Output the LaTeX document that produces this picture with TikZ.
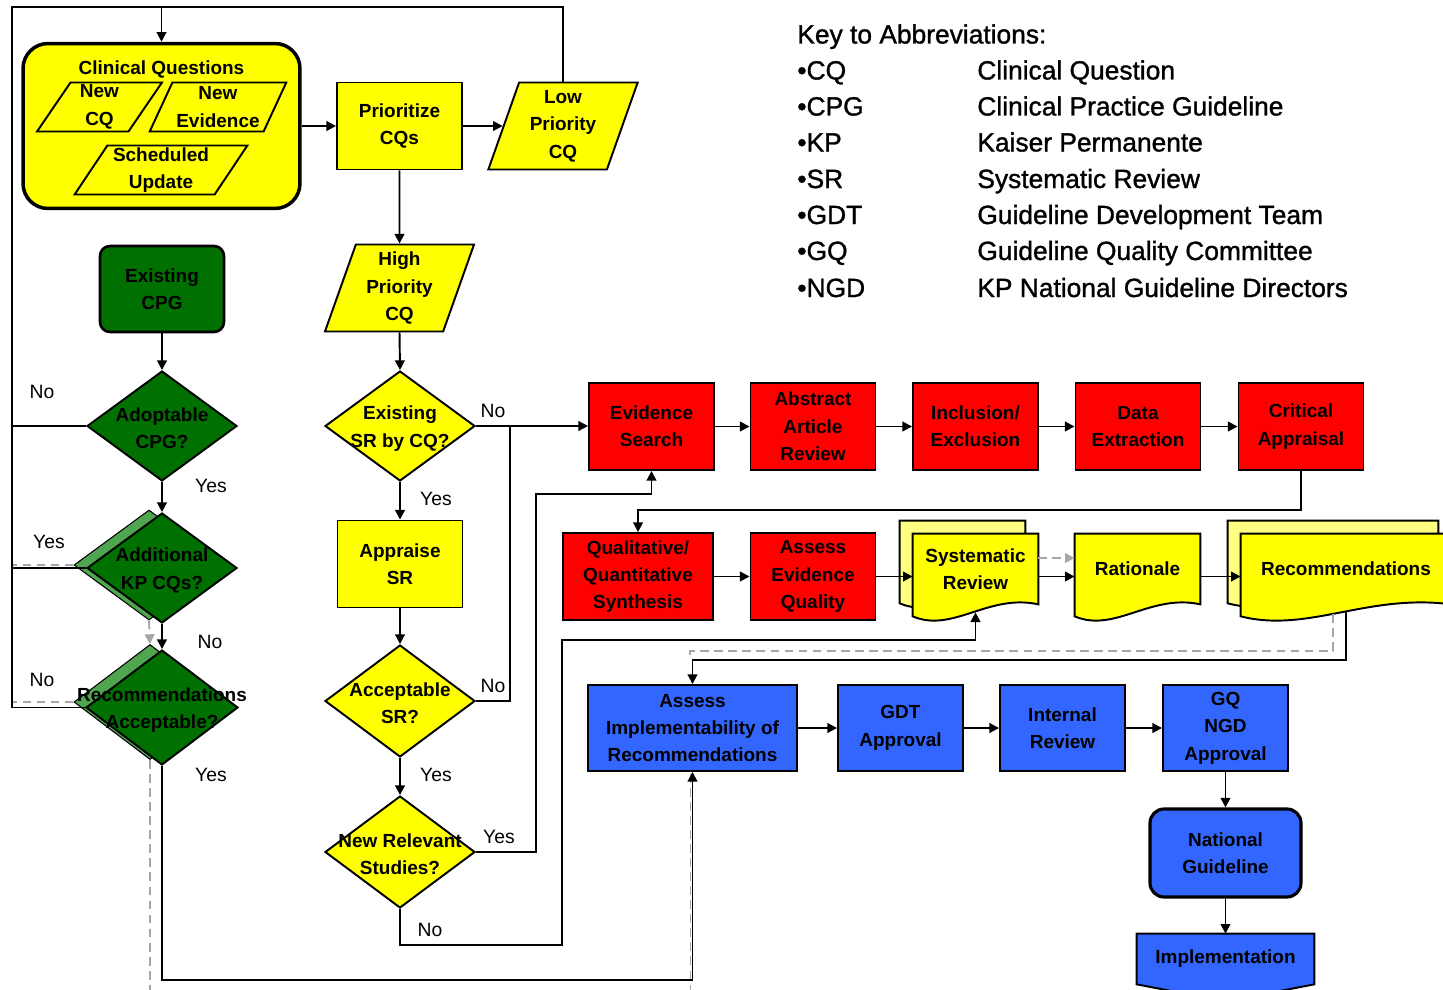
\documentclass[tikz,border=0pt]{standalone}
\usepackage{fontspec}
\setmainfont{Liberation Sans}
\usetikzlibrary{shapes.geometric,arrows.meta,calc,backgrounds}

% Colours
\definecolor{cqyellow}{RGB}{255,255,0}
\definecolor{paleyellow}{RGB}{255,255,128}
\definecolor{srred}{RGB}{255,0,0}
\definecolor{gdtblue}{RGB}{51,102,255}
\definecolor{cpggreen}{RGB}{0,112,0}
\definecolor{oldgreen}{RGB}{80,165,80}

\newcommand{\boxfont}{\fontsize{10.8}{15.6}\selectfont\bfseries}
\newcommand{\keyfont}{\fontsize{15}{18}\selectfont\addfontfeature{FakeBold=1.2}}
\newcommand{\ynfont}{\fontsize{11}{13}\selectfont}

% Document outline with wavy bottom: node, fill, x offset, y offset
\newcommand{\docshape}[4]{%
  \draw[line width=1.1pt, fill=#2]
    ($(#1.north west)+(#3,#4)$) -- ($(#1.north east)+(#3,#4)$)
    -- ($(#1.south east)+(#3,#4)$)
    .. controls ($(#1.south west)!0.6!(#1.south east)+(#3,#4)+(0,-11)$)
    and ($(#1.south west)!0.32!(#1.south east)+(#3,#4)+(0,29)$)
    .. ($(#1.south west)+(#3,#4)+(0,12)$) -- cycle;}

\tikzset{
  flow/.style={draw, line width=1.1pt, align=center, font=\boxfont, inner sep=0pt},
  stepbox/.style={flow, rectangle, minimum width=2.5cm, minimum height=1.74cm},
  decision/.style={flow, diamond, minimum width=3cm, minimum height=2.2cm},
  dectext/.style={align=center, font=\boxfont, inner sep=0pt, yshift=-0.05cm},
  datain/.style={flow, trapezium, trapezium stretches=true,
    trapezium left angle=#1, trapezium right angle=180-#1, fill=cqyellow},
  docnode/.style={align=center, font=\boxfont, inner sep=0pt,
    minimum width=2.5cm, minimum height=1.4cm},
  yn/.style={font=\ynfont, inner sep=0pt},
  keytext/.style={font=\keyfont, inner sep=0pt, anchor=base west},
  link/.style={line width=1.1pt},
  arr/.style={link, -{Triangle[length=5.5pt,width=5.5pt]}},
  oldline/.style={line width=1.1pt, gray!70, dash pattern=on 5pt off 3pt},
  oldarr/.style={oldline, -{Triangle[length=5.5pt,width=5.5pt]}}
}

\begin{document}
\begin{tikzpicture}[x=0.02cm, y=-0.02cm]

\useasboundingbox (0,0) rectangle (1443,990);

% Clinical questions group
\node[flow, rounded corners=0.5cm, line width=2pt, fill=cqyellow,
  minimum width=5.54cm, minimum height=3.3cm,
  label={[dectext, anchor=north, yshift=-0.32cm]north:Clinical Questions}] (cq) at (161.5,126) {};
\node[datain=63, minimum width=2.5cm, minimum height=0.98cm] (newcq) at (99.5,107) {New\\CQ};
\node[datain=63, minimum width=2.75cm, minimum height=0.98cm] (newev) at (218,107) {New\\Evidence};
\node[datain=57, minimum width=3.48cm, minimum height=0.98cm] (sched) at (161,170) {Scheduled\\Update};

% Prioritising
\node[stepbox, fill=cqyellow] (prior) at (399.5,126) {Prioritize\\CQs};
\node[datain=72, minimum width=3cm, minimum height=1.74cm] (lowcq) at (563,126) {Low\\Priority\\CQ};
\node[datain=72, minimum width=3cm, minimum height=1.74cm] (highcq) at (399.5,288) {High\\Priority\\CQ};

% Systematic review column
\node[decision, fill=cqyellow, label={[dectext]center:Existing\\SR by CQ?}] (srexist) at (400,426) {};
\node[stepbox, fill=cqyellow] (appraise) at (400,564) {Appraise\\SR};
\node[decision, fill=cqyellow, minimum height=2.24cm, label={[dectext]center:Acceptable\\SR?}] (srok) at (400,701) {};
\node[decision, fill=cqyellow, minimum height=2.24cm, label={[dectext]center:New Relevant\\Studies?}] (newstudy) at (400,852) {};

% Existing guideline column
\node[flow, rounded corners=0.2cm, line width=1.5pt, fill=cpggreen,
  minimum width=2.48cm, minimum height=1.72cm] (cpg) at (162,289) {Existing\\CPG};
\node[decision, fill=oldgreen, line width=0.6pt] (addl-old) at (149,565) {};
\node[decision, fill=oldgreen, line width=0.6pt, minimum width=3.04cm, minimum height=2.3cm] (recok-old) at (150,702) {};
\node[decision, fill=cpggreen, label={[dectext]center:Adoptable\\CPG?}] (adopt) at (162,426) {};
\node[decision, fill=cpggreen, label={[dectext]center:Additional\\KP CQs?}] (addl) at (162,568) {};
\node[decision, fill=cpggreen, minimum width=3.04cm, minimum height=2.3cm,
  label={[dectext]center:Recommendations\\Acceptable?}] (recok) at (162,707.5) {};

% Evidence review steps
\node[stepbox, fill=srred] (search) at (651.5,426.5) {Evidence\\Search};
\node[stepbox, fill=srred] (abstract) at (813,426.5) {Abstract\\Article\\Review};
\node[stepbox, fill=srred] (inclusion) at (975.5,426.5) {Inclusion/\\Exclusion};
\node[stepbox, fill=srred] (extraction) at (1138,426.5) {Data\\Extraction};
\node[stepbox, fill=srred] (critical) at (1301,426.5) {Critical\\Appraisal};
\node[stepbox, fill=srred, minimum width=3cm] (synth) at (638,576.5) {Qualitative/\\Quantitative\\Synthesis};
\node[stepbox, fill=srred] (assessq) at (813,576.5) {Assess\\Evidence\\Quality};
\node[docnode] (sysrev) at (975.5,569) {Systematic\\Review};
\node[docnode] (rationale) at (1137.5,569) {Rationale};
\node[docnode, minimum width=4.2cm] (recs) at (1346,569) {Recommendations};

% Approval steps
\node[stepbox, fill=gdtblue, minimum width=4.18cm, minimum height=1.72cm] (impl) at (692.5,728) {Assess\\Implementability of\\Recommendations};
\node[stepbox, fill=gdtblue, minimum height=1.72cm] (gdt) at (900.5,728) {GDT\\Approval};
\node[stepbox, fill=gdtblue, minimum height=1.72cm] (internal) at (1062.5,728) {Internal\\Review};
\node[stepbox, fill=gdtblue, minimum height=1.72cm] (gqngd) at (1225.5,728) {GQ\\NGD\\Approval};
\node[flow, rounded corners=0.28cm, line width=1.8pt, fill=gdtblue,
  minimum width=3.02cm, minimum height=1.76cm] (national) at (1225.5,853) {National\\Guideline};
\node[docnode, minimum width=3.54cm, minimum height=1cm] (implement) at (1225.5,959) {Implementation};

% Shapes behind the document nodes
\begin{pgfonlayer}{background}
\docshape{sysrev}{paleyellow}{-13}{-13}
\docshape{sysrev}{cqyellow}{0}{0}
\docshape{rationale}{cqyellow}{0}{0}
\docshape{recs}{paleyellow}{-13}{-13}
\docshape{recs}{cqyellow}{0}{0}
\draw[line width=1.1pt, fill=gdtblue] (implement.north west) -- (implement.north east)
  -- (implement.south east) -- ($(implement.south)+(0,17)$) -- (implement.south west) -- cycle;
\end{pgfonlayer}

% Turning points
\coordinate (topleft) at (12,7);
\coordinate (nojoin) at (510,426);
\coordinate (yesturn) at (536,494);
\coordinate (nodown) at (562,945);
\coordinate (noup) at (562,640);
\coordinate (oldturn) at (690,651);
\coordinate (bottomturn) at (162,980);
\coordinate (oldbottom) at (150,1000);

% Earlier version (grey dashed)
\draw[oldarr] (addl-old.south) -- (recok-old.north);
\draw[oldline] (addl-old.west) -- (addl-old.west -| topleft);
\draw[oldline] (recok-old.west) -- (recok-old.west -| topleft);
\draw[oldline] (recok-old.south) -- (oldbottom) -| ($(impl.south)+(-2,0)$);
\draw[oldarr] ([yshift=0.22cm]sysrev.east) -- ([yshift=0.22cm]rationale.west);
\draw[oldline] ($(recs.south)+(-13,10)$) |- (oldturn) -- ++(0,9);

% Loops back to clinical questions
\draw[arr] (lowcq.north) |- (cq.north |- topleft) -- (cq.north);
\draw[link] (adopt.west) -| (topleft) -- (cq.north |- topleft);
\draw[link] (addl.west) -- (addl.west -| topleft);
\draw[link] (recok.west) -| (topleft);

% Main flow
\draw[arr] (cq.east) -- (prior.west);
\draw[arr] (prior.east) -- (lowcq.west);
\draw[arr] (prior.south) -- (highcq.north);
\draw[arr] (highcq.south) -- (srexist.north);
\draw[arr] (srexist.east) -- (srexist.east -| search.west);
\draw[arr] (srexist.south) -- (appraise.north);
\draw[arr] (appraise.south) -- (srok.north);
\draw[arr] (srok.south) -- (newstudy.north);
\draw[link] (srok.east) -| (nojoin);
\draw[arr] (newstudy.east) -| (yesturn) -| (search.south);
\draw[arr] (newstudy.south) |- (nodown) -- (noup) -| ($(sysrev.south)+(0,8)$);
\draw[arr] (cpg.south) -- (adopt.north);
\draw[arr] (adopt.south) -- (addl.north);
\draw[arr] (addl.south) -- (recok.north);
\draw[arr] (recok.south) -- (bottomturn) -| (impl.south);

% Evidence review flow
\draw[arr] (search.east) -- (abstract.west);
\draw[arr] (abstract.east) -- (inclusion.west);
\draw[arr] (inclusion.east) -- (extraction.west);
\draw[arr] (extraction.east) -- (critical.west);
\draw[arr] (critical.south) -- ++(0,39) -| (synth.north);
\draw[arr] (synth.east) -- (assessq.west);
\draw[arr] (assessq.east) -- (assessq.east -| sysrev.west);
\draw[arr] (assessq.east -| sysrev.east) -- (assessq.east -| rationale.west);
\draw[arr] (assessq.east -| rationale.east) -- (assessq.east -| recs.west);
\draw[arr] ($(recs.south)+(0,8)$) -- ++(0,48) -| (impl.north);

% Approval flow
\draw[arr] (impl.east) -- (gdt.west);
\draw[arr] (gdt.east) -- (internal.west);
\draw[arr] (internal.east) -- (gqngd.west);
\draw[arr] (gqngd.south) -- (national.north);
\draw[arr] (national.south) -- (implement.north);

% Yes / No labels
\node[yn] (adopt-no) at (42,392) {No};
\node[yn] (adopt-yes) at (211,486) {Yes};
\node[yn] (addl-yes) at (49,542) {Yes};
\node[yn] (addl-no) at (210,642) {No};
\node[yn] (recok-no) at (42,680) {No};
\node[yn] (recok-yes) at (211,775) {Yes};
\node[yn] (srexist-no) at (493,411) {No};
\node[yn] (srexist-yes) at (436,499) {Yes};
\node[yn] (srok-no) at (493,686) {No};
\node[yn] (srok-yes) at (436,775) {Yes};
\node[yn] (newstudy-yes) at (499,837) {Yes};
\node[yn] (newstudy-no) at (430,930) {No};

% Key
\node[keytext] (keyhead) at (797,43.5) {Key to Abbreviations:};
\node[keytext] (abbr-cq) at (797,79.5) {•CQ};
\node[keytext] (abbr-cpg) at (797,115.5) {•CPG};
\node[keytext] (abbr-kp) at (797,151.5) {•KP};
\node[keytext] (abbr-sr) at (797,188) {•SR};
\node[keytext] (abbr-gdt) at (797,224) {•GDT};
\node[keytext] (abbr-gq) at (797,260) {•GQ};
\node[keytext] (abbr-ngd) at (797,297) {•NGD};
\node[keytext] (full-cq) at (977,79.5) {Clinical Question};
\node[keytext] (full-cpg) at (977,115.5) {Clinical Practice Guideline};
\node[keytext] (full-kp) at (977,151.5) {Kaiser Permanente};
\node[keytext] (full-sr) at (977,188) {Systematic Review};
\node[keytext] (full-gdt) at (977,224) {Guideline Development Team};
\node[keytext] (full-gq) at (977,260) {Guideline Quality Committee};
\node[keytext] (full-ngd) at (977,297) {KP National Guideline Directors};

\end{tikzpicture}
\end{document}
